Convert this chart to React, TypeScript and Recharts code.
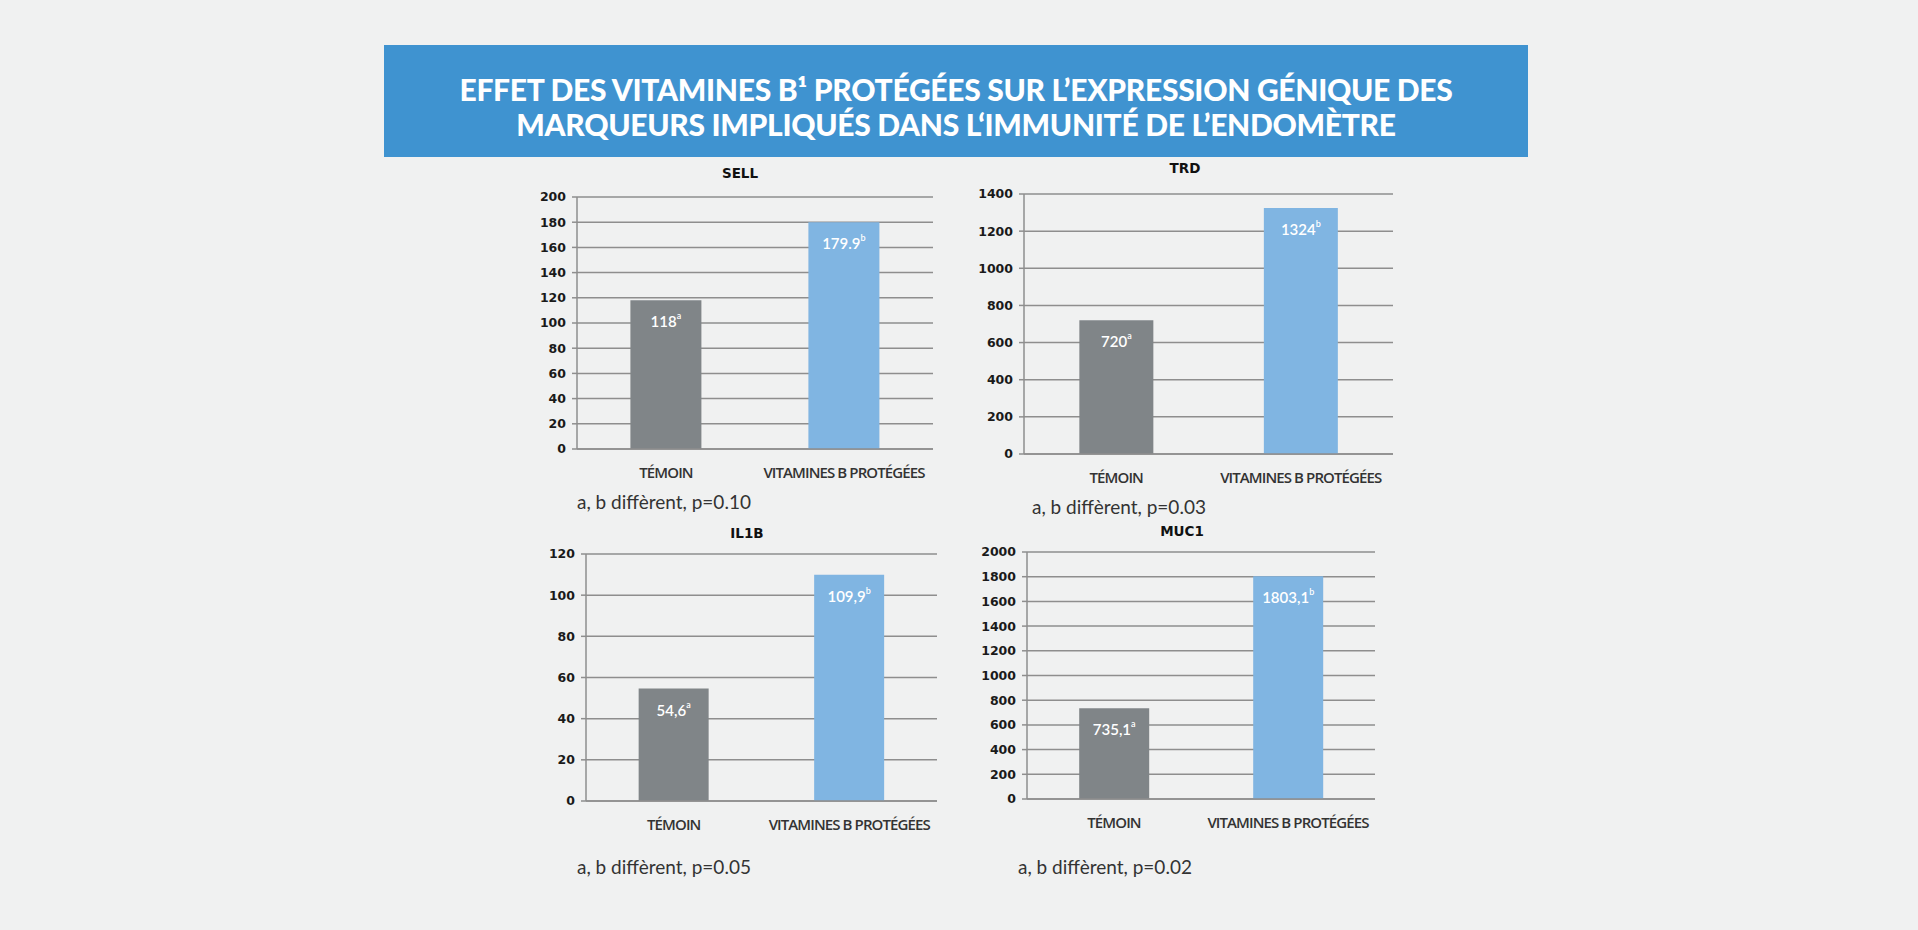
import React from 'react';
import { BarChart, Bar, XAxis, YAxis, CartesianGrid, Cell, LabelList } from 'recharts';

const categories = ['TÉMOIN', 'VITAMINES B PROTÉGÉES'];
const letters = ['a', 'b'];

const sellValues = [118, 179.9];
const sellLabels = ['118', '179.9'];
const sellTicks = [0, 20, 40, 60, 80, 100, 120, 140, 160, 180, 200];

const trdValues = [720, 1324];
const trdLabels = ['720', '1324'];
const trdTicks = [0, 200, 400, 600, 800, 1000, 1200, 1400];

const il1bValues = [54.6, 109.9];
const il1bLabels = ['54,6', '109,9'];
const il1bTicks = [0, 20, 40, 60, 80, 100, 120];

const muc1Values = [735.1, 1803.1];
const muc1Labels = ['735,1', '1803,1'];
const muc1Ticks = [0, 200, 400, 600, 800, 1000, 1200, 1400, 1600, 1800, 2000];

const BAR_COLORS = ['#808588', '#80b5e2'];
const GRID = '#8e8e8e';
const YW = 60;
const MT = 12;
const MR = 40;
const XH = 44;

type PanelProps = {
  title: string;
  values: number[];
  labels: string[];
  ticks: number[];
  note: string;
  plot: { left: number; top: number; width: number; height: number };
  titleAt: { x: number; y: number };
  noteAt: { x: number; y: number };
};

function renderBarLabel(props: any) {
  const { x, y, width, value, index } = props;
  return (
    <text
      x={Number(x) + Number(width) / 2}
      y={Number(y) + 21}
      textAnchor="middle"
      dominantBaseline="central"
      fill="#ffffff"
      fontFamily="Lato, sans-serif"
      fontWeight={600}
      fontSize={15}
    >
      {value}
      <tspan dy={-6} fontSize={9}>{letters[index] ?? ''}</tspan>
    </text>
  );
}

function Panel({ title, values, labels, ticks, note, plot, titleAt, noteAt }: PanelProps) {
  const data = categories.map((name, i) => ({ name, value: values[i], label: labels[i] }));
  const max = ticks[ticks.length - 1];
  return (
    <>
      <div
        style={{
          position: 'absolute',
          left: titleAt.x - 100,
          top: titleAt.y - 10,
          width: 200,
          textAlign: 'center',
          fontFamily: 'DejaVu Sans, sans-serif',
          fontWeight: 700,
          fontSize: 13.5,
          lineHeight: '20px',
          color: '#111',
        }}
      >
        {title}
      </div>
      <div style={{ position: 'absolute', left: plot.left - YW, top: plot.top - MT }}>
        <BarChart
          width={YW + plot.width + MR}
          height={MT + plot.height + XH}
          data={data}
          margin={{ top: MT, right: MR, left: 0, bottom: 0 }}
          barCategoryGap="30%"
        >
          <CartesianGrid vertical={false} stroke={GRID} strokeWidth={1.5} />
          <XAxis
            dataKey="name"
            height={XH}
            interval={0}
            axisLine={{ stroke: GRID, strokeWidth: 1.5 }}
            tickLine={false}
            tickSize={8}
            tickMargin={10}
            tick={{ fill: '#333', fontSize: 15, fontFamily: 'Open Sans, sans-serif', fontWeight: 600, letterSpacing: -0.9 }}
          />
          <YAxis
            width={YW}
            domain={[0, max]}
            ticks={ticks}
            interval={0}
            axisLine={{ stroke: GRID, strokeWidth: 1.5 }}
            tickLine={{ stroke: GRID, strokeWidth: 1.5 }}
            tickSize={5}
            tickMargin={6}
            tick={{ fill: '#1a1a1a', fontSize: 12.5, fontFamily: 'DejaVu Sans, sans-serif', fontWeight: 700 }}
          />
          <Bar dataKey="value" isAnimationActive={false}>
            {data.map((d, i) => (
              <Cell key={d.name} fill={BAR_COLORS[i]} />
            ))}
            <LabelList dataKey="label" content={renderBarLabel} />
          </Bar>
        </BarChart>
      </div>
      <div
        style={{
          position: 'absolute',
          left: noteAt.x,
          top: noteAt.y - 13,
          fontFamily: 'Lato, sans-serif',
          fontSize: 19,
          lineHeight: '26px',
          color: '#333',
          whiteSpace: 'nowrap',
        }}
      >
        {note}
      </div>
    </>
  );
}

export default function App() {
  return (
    <div style={{ position: 'absolute', left: 0, top: 0, width: 1918, height: 930, background: '#f0f1f1', overflow: 'hidden' }}>
      <div
        style={{
          position: 'absolute',
          left: 384,
          top: 45,
          width: 1144,
          height: 112,
          background: '#3f93d0',
          color: '#fff',
          fontFamily: 'Lato, sans-serif',
          fontWeight: 900,
          fontSize: 30,
          lineHeight: '35px',
          textAlign: 'center',
          boxSizing: 'border-box',
          paddingTop: 27,
          letterSpacing: -0.3,
        }}
      >
        <div>EFFET DES VITAMINES B¹ PROTÉGÉES SUR L’EXPRESSION GÉNIQUE DES</div>
        <div>MARQUEURS IMPLIQUÉS DANS L‘IMMUNITÉ DE L’ENDOMÈTRE</div>
      </div>

      <Panel
        title="SELL"
        values={sellValues}
        labels={sellLabels}
        ticks={sellTicks}
        note="a, b diffèrent, p=0.10"
        plot={{ left: 577, top: 197, width: 356, height: 252 }}
        titleAt={{ x: 740, y: 173 }}
        noteAt={{ x: 577, y: 502 }}
      />
      <Panel
        title="TRD"
        values={trdValues}
        labels={trdLabels}
        ticks={trdTicks}
        note="a, b diffèrent, p=0.03"
        plot={{ left: 1024, top: 194, width: 369, height: 260 }}
        titleAt={{ x: 1185, y: 168 }}
        noteAt={{ x: 1032, y: 507 }}
      />
      <Panel
        title="IL1B"
        values={il1bValues}
        labels={il1bLabels}
        ticks={il1bTicks}
        note="a, b diffèrent, p=0.05"
        plot={{ left: 586, top: 554, width: 351, height: 247 }}
        titleAt={{ x: 747, y: 533 }}
        noteAt={{ x: 577, y: 867 }}
      />
      <Panel
        title="MUC1"
        values={muc1Values}
        labels={muc1Labels}
        ticks={muc1Ticks}
        note="a, b diffèrent, p=0.02"
        plot={{ left: 1027, top: 552, width: 348, height: 247 }}
        titleAt={{ x: 1182, y: 531 }}
        noteAt={{ x: 1018, y: 867 }}
      />
    </div>
  );
}
